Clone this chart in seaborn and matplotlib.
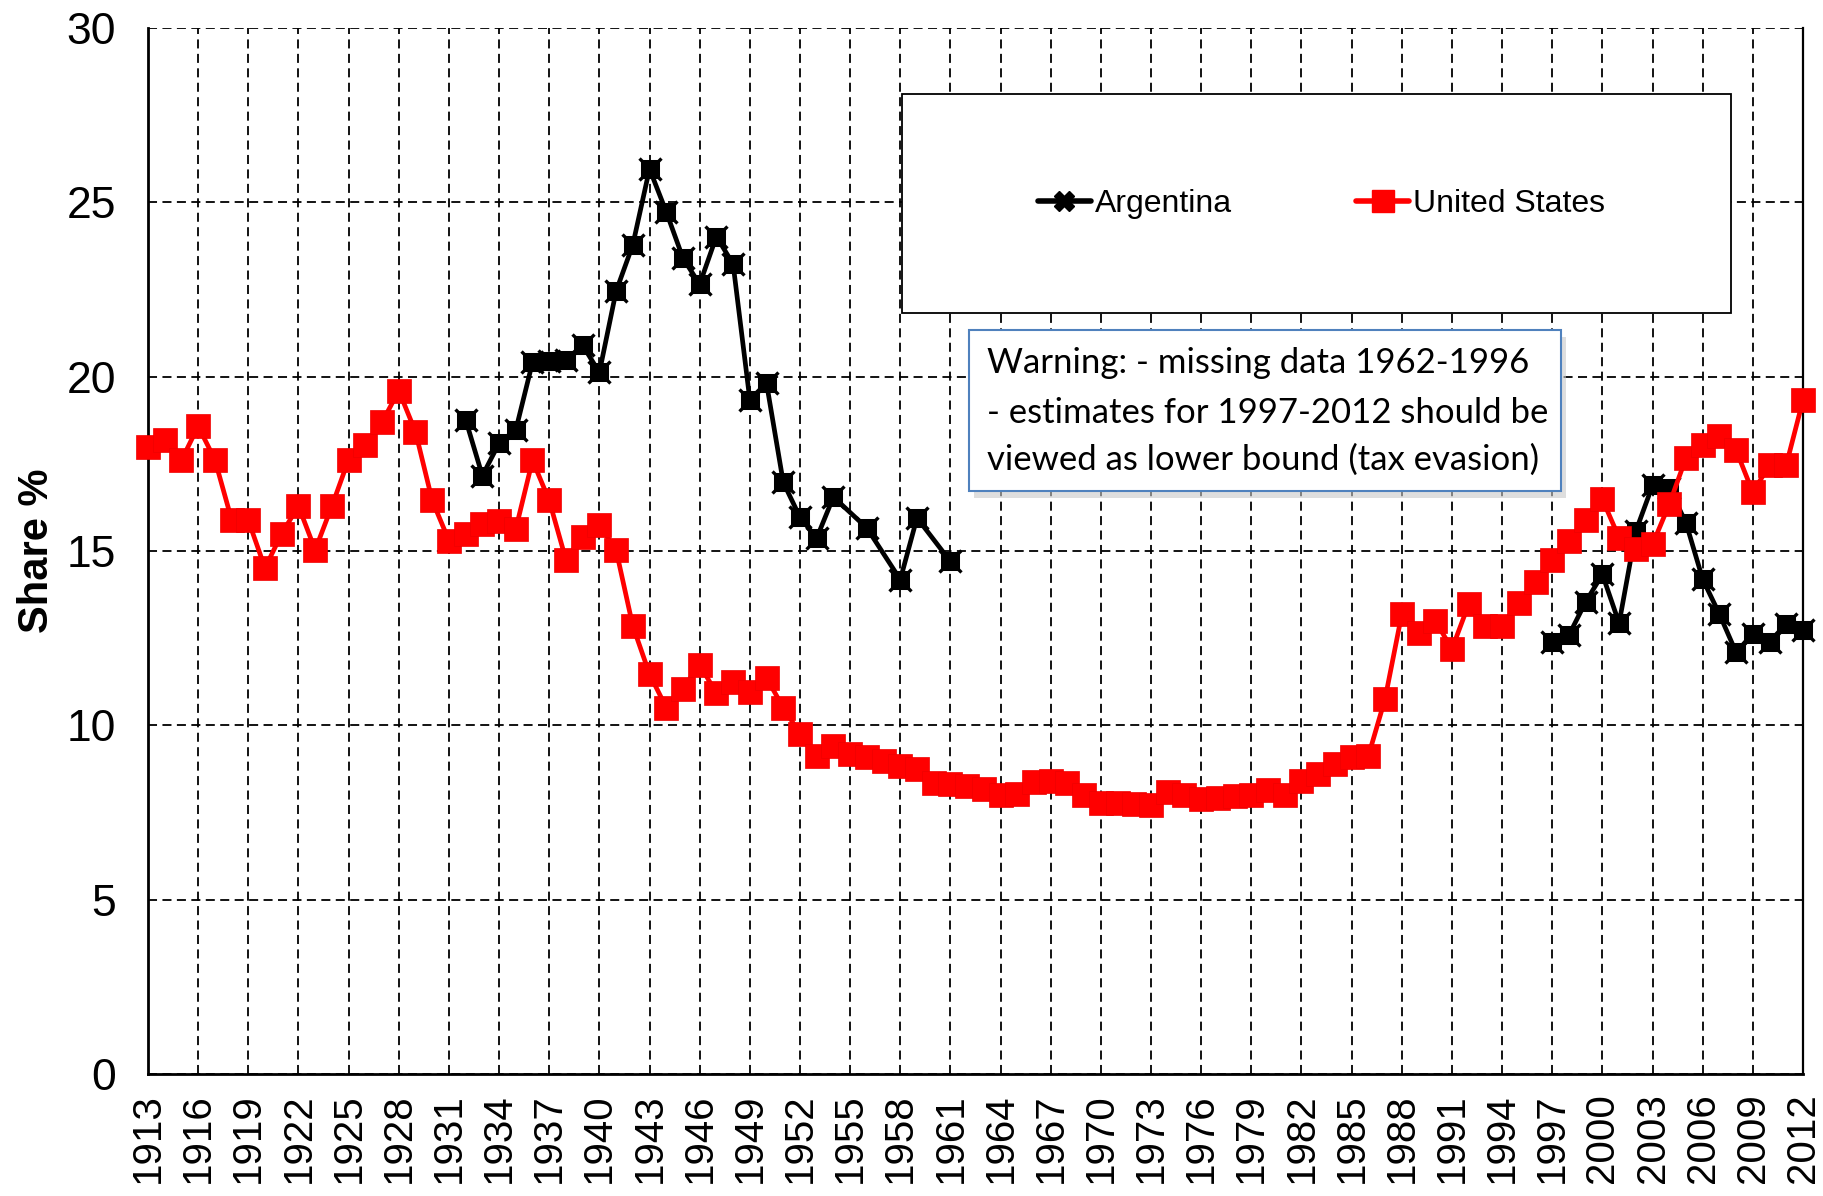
import numpy as np
import pandas as pd
import seaborn as sns
import matplotlib
matplotlib.use("Agg")
import matplotlib.pyplot as plt
from matplotlib.lines import Line2D
from matplotlib.patches import Rectangle
from matplotlib import font_manager

# ---------------- data ----------------
us_years = list(range(1913, 2013))
us_share = [17.98, 18.18, 17.60, 18.58, 17.62, 15.90, 15.88, 14.51, 15.50, 16.29,
            15.03, 16.29, 17.62, 18.04, 18.69, 19.60, 18.42, 16.45, 15.30, 15.50,
            15.77, 15.87, 15.63, 17.60, 16.45, 14.75, 15.41, 15.74, 15.03, 12.85,
            11.47, 10.51, 11.05, 11.74, 10.92, 11.25, 10.95, 11.36, 10.51, 9.76,
            9.11, 9.40, 9.18, 9.08, 8.97, 8.83, 8.75, 8.35, 8.32, 8.26,
            8.18, 8.01, 8.04, 8.37, 8.40, 8.34, 8.01, 7.77, 7.77, 7.74,
            7.72, 8.10, 7.99, 7.88, 7.91, 7.96, 8.01, 8.15, 8.01, 8.40,
            8.60, 8.90, 9.10, 9.12, 10.76, 13.19, 12.66, 13.00, 12.19, 13.47,
            12.85, 12.85, 13.52, 14.12, 14.74, 15.29, 15.89, 16.48, 15.38, 15.05,
            15.19, 16.34, 17.67, 18.04, 18.31, 17.89, 16.68, 17.47, 17.47, 19.33]

arg_years = [1932, 1933, 1934, 1935, 1936, 1937, 1938, 1939, 1940, 1941,
             1942, 1943, 1944, 1945, 1946, 1947, 1948, 1949, 1950, 1951,
             1952, 1953, 1954, 1956, 1958, 1959, 1961,
             1997, 1998, 1999, 2000, 2001, 2002, 2003, 2004, 2005, 2006,
             2007, 2008, 2009, 2010, 2011, 2012]
arg_share = [18.77, 17.16, 18.09, 18.47, 20.41, 20.44, 20.48, 20.90, 20.12, 22.45,
             23.78, 25.96, 24.73, 23.40, 22.65, 24.02, 23.23, 19.34, 19.81, 16.97,
             15.97, 15.37, 16.55, 15.66, 14.18, 15.95, 14.70,
             12.40, 12.59, 13.54, 14.33, 12.93, 15.57, 16.88, 16.81, 15.81, 14.19,
             13.19, 12.09, 12.63, 12.40, 12.90, 12.74]

x_ticks = list(range(1913, 2013, 3))
y_ticks = [0, 5, 10, 15, 20, 25, 30]

series_names = ["Argentina", "United States"]
warning_lines = ["Warning: - missing data 1962-1996",
                 "- estimates for 1997-2012 should be",
                 "viewed as lower bound (tax evasion)"]

us_df = pd.DataFrame({"year": us_years, "share": us_share})
arg_df = pd.DataFrame({"year": arg_years, "share": arg_share})
arg_df["segment"] = np.where(arg_df["year"] <= 1961, "early", "late")

# ---------------- style ----------------
sns.set_theme(style="white")
plt.rcParams["font.family"] = ["Liberation Sans", "DejaVu Sans"]

installed = {f.name for f in font_manager.fontManager.ttflist}
legend_family = ["Liberation Sans Narrow", "Liberation Sans", "DejaVu Sans"] \
    if "Liberation Sans Narrow" in installed else ["Liberation Sans", "DejaVu Sans"]
legend_size = 26 if "Liberation Sans Narrow" in installed else 23

fig = plt.figure(figsize=(18.24, 11.96), dpi=100)
ax = fig.add_axes([148 / 1824, 1 - 1074 / 1196, 1655 / 1824, 1046 / 1196])

# Argentina
sns.lineplot(data=arg_df, x="year", y="share", units="segment", estimator=None,
             color="black", lw=3.4, marker="s", markersize=12.5,
             markeredgecolor="black", ax=ax, zorder=3, legend=False, clip_on=False)
sns.scatterplot(data=arg_df, x="year", y="share", marker="x", s=250,
                color="black", linewidth=2.4, ax=ax, zorder=3, legend=False,
                clip_on=False)

# United States
sns.lineplot(data=us_df, x="year", y="share", color="#ff0000", lw=3.4,
             marker="s", markersize=17, markeredgecolor="#ee0000",
             markeredgewidth=0.5, ax=ax, zorder=4, legend=False, clip_on=False)

ax.set_xlim(1913, 2012)
ax.set_ylim(0, 30)
ax.set_xticks(x_ticks)
ax.set_xticklabels([str(y) for y in x_ticks], rotation=90)
ax.set_yticks(y_ticks)
ax.tick_params(axis="both", length=0, colors="black")
ax.tick_params(axis="y", pad=23, labelsize=32)
ax.tick_params(axis="x", pad=14, labelsize=29)

ax.grid(True, color="black", linestyle=(0, (5, 3)), linewidth=1.3)
ax.set_axisbelow(True)
for side in ["left", "bottom", "right"]:
    ax.spines[side].set_visible(True)
    ax.spines[side].set_color("black")
    ax.spines[side].set_linewidth(2.0)
ax.spines["right"].set_linewidth(1.6)
ax.spines["top"].set_visible(False)

ax.set_xlabel("")
ax.set_ylabel("Share %", fontsize=30, fontweight="bold", color="black")
ax.yaxis.set_label_coords(-0.055, 0.5)

# legend box
ax.add_patch(Rectangle((0.4556, 0.7274), 0.5009, 0.2096, transform=ax.transAxes,
                       facecolor="white", edgecolor="black", lw=1.3, zorder=5))
handles = [
    Line2D([0], [0], color="black", lw=4.0, marker="X", markersize=15,
           markerfacecolor="black", markeredgecolor="black"),
    Line2D([0], [0], color="#ff0000", lw=4.0, marker="s", markersize=16,
           markerfacecolor="#ff0000", markeredgecolor="#ff0000"),
]
leg = ax.legend(handles, series_names, loc="center", bbox_to_anchor=(0.709, 0.832),
                ncol=2, frameon=False, handlelength=1.65,
                handletextpad=0.12, columnspacing=3.9,
                prop={"family": legend_family, "size": legend_size})
leg.set_zorder(6)
for t in leg.get_texts():
    t.set_color("black")

# warning box (with shadow)
ax.add_patch(Rectangle((0.499, 0.551), 0.358, 0.154, transform=ax.transAxes,
                       facecolor="#c8c8c8", edgecolor="none", zorder=5, alpha=0.6))
ax.add_patch(Rectangle((0.496, 0.557), 0.358, 0.154, transform=ax.transAxes,
                       facecolor="white", edgecolor="#4f81bd", lw=1.5, zorder=6))
line_y = [0.680, 0.632, 0.587]
for txt, yy in zip(warning_lines, line_y):
    ax.text(0.507, yy, txt, transform=ax.transAxes, fontsize=25,
            family=["Lato", "DejaVu Sans"], color="black", va="center",
            ha="left", zorder=7)

fig.savefig("out.png", dpi=100)
